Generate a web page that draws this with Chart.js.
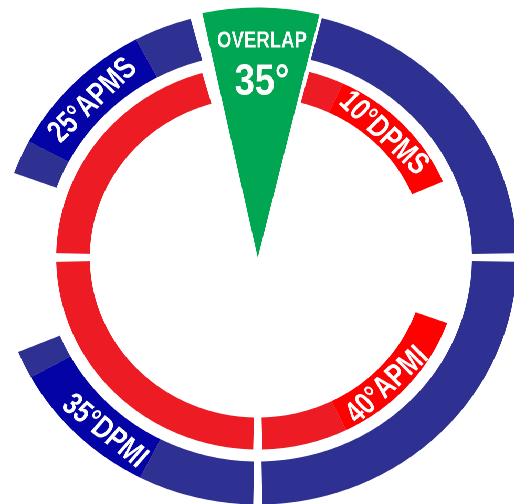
<!DOCTYPE html>
<html>
<head>
<meta charset="utf-8">
<script src="https://cdn.jsdelivr.net/npm/chart.js@4.4.1/dist/chart.umd.min.js"></script>
<style>
  html, body { margin: 0; padding: 0; background: #fff; overflow: hidden; }
  #wrap { position: relative; width: 491px; height: 504px; transform: scaleX(1.05); transform-origin: 0 0; }
  .layer { position: absolute; left: 0; top: 0; width: 491px; height: 504px; }
</style>
</head>
<body>
<div id="wrap">
  <div class="layer"><canvas id="rings"></canvas></div>
  <div class="layer"><canvas id="wedge"></canvas></div>
</div>
<script>
// arc spans in degrees, clockwise from 12 o'clock
const outerSpans = [14.3, 74.7, 2, 88, 2, 26, 34, 6.5, 42.5, 8, 34, 13, 15];
const outerKinds = ['gap', 'blue', 'gap', 'blue', 'gap', 'blue', 'blueTag', 'blue', 'gap', 'blue', 'blueTag', 'blue', 'gap'];
const innerSpans = [14.8, 10.2, 41.7, 43.3, 44, 24.7, 2.6, 87.4, 2.6, 72.7, 16];
const innerKinds = ['gap', 'red', 'redTag', 'gap', 'redTag', 'red', 'gap', 'red', 'gap', 'red', 'gap'];

const labelTexts = ['25°APMS', '10°DPMS', '40°APMI', '35°DPMI'];
const labelAngles = [315, 44, 136, 220];
const labelRings = ['outer', 'inner', 'inner', 'outer'];

const overlapSpans = [25.8, 334.2];
const overlapStart = -12.2;
const overlapTitle = 'OVERLAP';
const overlapValue = '35°';

const palette = {
  gap: 'rgba(0,0,0,0)',
  blue: '#2e3192',
  blueTag: '#0303a6',
  red: '#ed1c24',
  redTag: '#fe0202',
  green: '#00a651'
};

const FONT = '"Liberation Sans", Arial, sans-serif';

function drawText(ctx, text, x, y, rot, size, squeeze) {
  ctx.save();
  ctx.translate(x, y);
  ctx.rotate(rot);
  ctx.scale(squeeze, 1);
  ctx.font = 'bold ' + size + 'px ' + FONT;
  ctx.textAlign = 'center';
  ctx.textBaseline = 'alphabetic';
  ctx.fillStyle = '#fff';
  ctx.fillText(text, 0, size * 0.36);
  ctx.restore();
}

const ringLabels = {
  id: 'ringLabels',
  afterDraw(chart) {
    const ctx = chart.ctx;
    const outer = chart.getDatasetMeta(0).data[0];
    const inner = chart.getDatasetMeta(2).data[0];
    const cx = outer.x, cy = outer.y;
    labelTexts.forEach((t, i) => {
      const arc = labelRings[i] === 'outer' ? outer : inner;
      const r = (arc.innerRadius + arc.outerRadius) / 2 - 1;
      const a = labelAngles[i] * Math.PI / 180;
      const x = cx + r * Math.sin(a);
      const y = cy - r * Math.cos(a);
      const deg = labelAngles[i] % 360;
      const rot = (deg > 90 && deg < 270) ? a - Math.PI : a;
      drawText(ctx, t, x, y, rot, 31, 0.77);
    });
  }
};

const overlapText = {
  id: 'overlapText',
  afterDraw(chart) {
    const ctx = chart.ctx;
    const arc = chart.getDatasetMeta(0).data[0];
    drawText(ctx, overlapTitle, arc.x + 4, arc.y - 218.5, 0, 23, 0.77);
    drawText(ctx, overlapValue, arc.x + 4, arc.y - 179, 0, 44, 0.78);
  }
};

const common = {
  responsive: true,
  maintainAspectRatio: false,
  animation: false,
  events: [],
  devicePixelRatio: 2,
  layout: { padding: { top: 11 } },
  plugins: { legend: { display: false }, tooltip: { enabled: false } }
};

new Chart(document.getElementById('rings'), {
  type: 'doughnut',
  data: {
    labels: outerSpans.map((_, i) => 'arc ' + i),
    datasets: [
      { data: outerSpans, backgroundColor: outerKinds.map(k => palette[k]), borderWidth: 0, hoverOffset: 0, weight: 43 },
      { data: [360], backgroundColor: [palette.gap], borderWidth: 0, hoverOffset: 0, weight: 12 },
      { data: innerSpans, backgroundColor: innerKinds.map(k => palette[k]), borderWidth: 0, hoverOffset: 0, weight: 32 }
    ]
  },
  options: Object.assign({}, common, {
    radius: 247,
    cutout: (160 / 247 * 100) + '%',
    rotation: 0
  }),
  plugins: [ringLabels]
});

new Chart(document.getElementById('wedge'), {
  type: 'pie',
  data: {
    labels: ['overlap', 'rest'],
    datasets: [{
      data: overlapSpans,
      backgroundColor: [palette.green, palette.gap],
      borderWidth: 0,
      hoverOffset: 0
    }]
  },
  options: Object.assign({}, common, {
    radius: 250,
    rotation: overlapStart
  }),
  plugins: [overlapText]
});
</script>
</body>
</html>
